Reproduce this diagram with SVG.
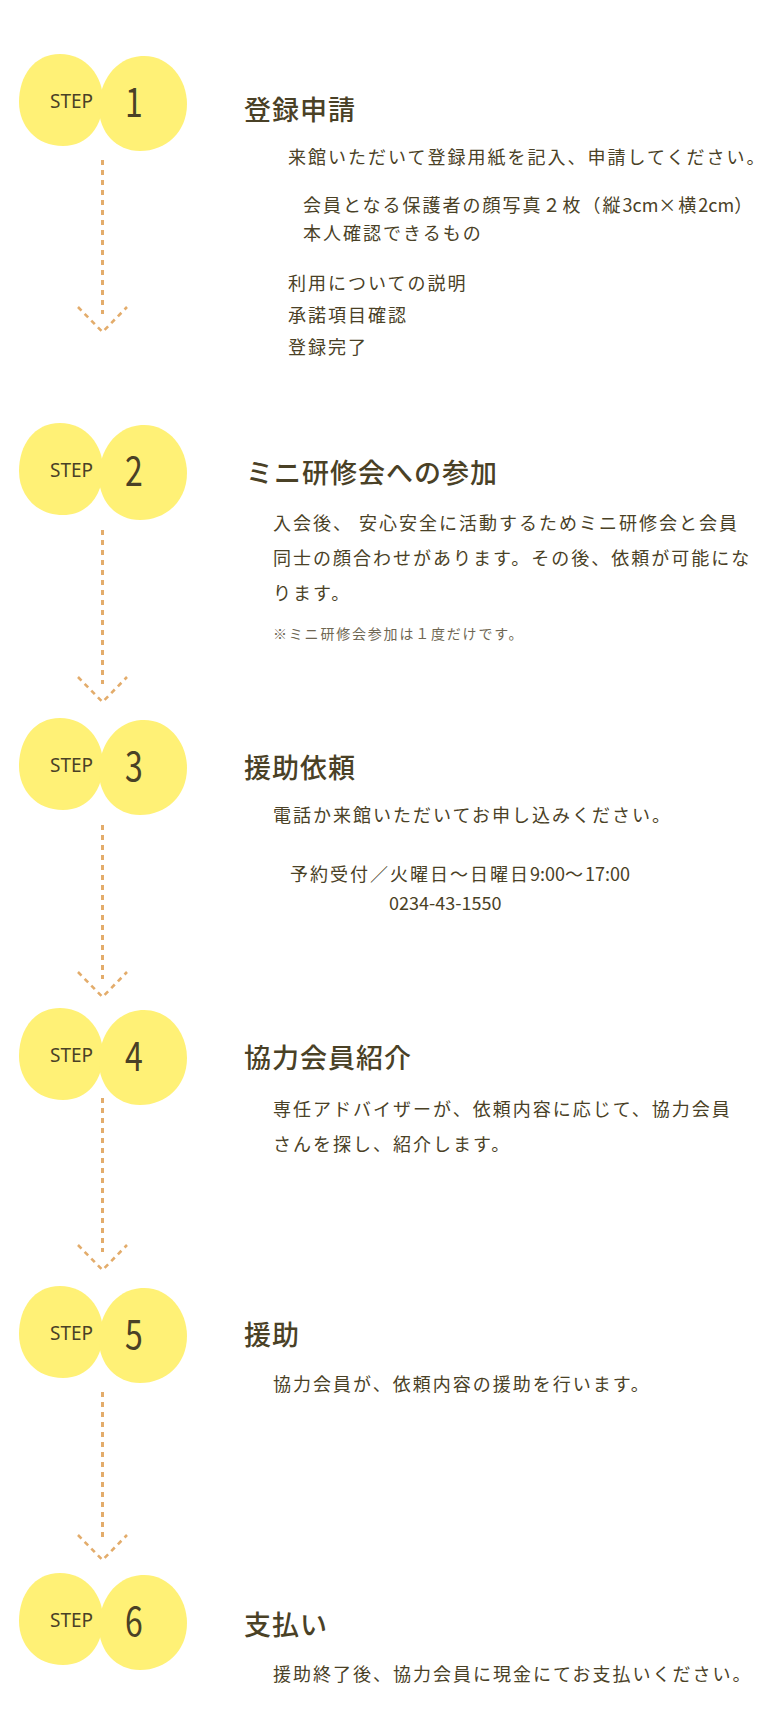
<svg xmlns="http://www.w3.org/2000/svg" xmlns:xlink="http://www.w3.org/1999/xlink" width="768" height="1730" viewBox="0 0 768 1730">
<style>
.bg{fill:#ffffff}
.lobe{fill:#FFF176}
.step{font-family:"Noto Sans","Noto Sans CJK JP",sans-serif;font-size:19px;fill:#4a4126;text-anchor:middle}
.num{font-family:"Noto Sans CJK JP","Noto Sans",sans-serif;font-size:40px;fill:#4a4126;text-anchor:middle}
.title{font-family:"Noto Sans CJK JP",sans-serif;font-size:27px;font-weight:500;fill:#4a4126;letter-spacing:1px}
.body{font-family:"Noto Sans CJK JP",sans-serif;font-size:18px;fill:#4a4126;letter-spacing:2px}
.note{font-family:"Noto Sans CJK JP",sans-serif;font-size:14px;fill:#6e6652;letter-spacing:1.8px}
.dig{letter-spacing:0px}
.dash{fill:none;stroke:#E3AC6B;stroke-width:3;stroke-dasharray:5 5}
.chev{fill:none;stroke:#E3AC6B;stroke-width:2.6;stroke-dasharray:5 4.5}
</style>
<defs>
<path id="lobeL" d="M60,0 C86,0 103,22 103,46 C103,72 88,92 63,92 C36,92 19,72 19,48 C19,22 34,0 60,0 Z"/>
<path id="lobeR" d="M141,2 C168,0 187,24 187,50 C187,78 166,97 140,97 C116,97 99,78 99,54 C99,28 115,4 141,2 Z"/>
<g id="blob">
<use xlink:href="#lobeL" class="lobe"/>
<use xlink:href="#lobeR" class="lobe"/>
</g>
</defs>
<rect class="bg" x="0" y="0" width="768" height="1730"/>

<g id="connectors">
<line class="dash" x1="102.5" y1="160" x2="102.5" y2="314"/>
<polyline class="chev" points="78,307 102.5,332 127,307"/>
<line class="dash" x1="102.5" y1="530" x2="102.5" y2="684"/>
<polyline class="chev" points="78,677 102.5,702 127,677"/>
<line class="dash" x1="102.5" y1="825" x2="102.5" y2="979"/>
<polyline class="chev" points="78,972 102.5,997 127,972"/>
<line class="dash" x1="102.5" y1="1098" x2="102.5" y2="1252"/>
<polyline class="chev" points="78,1245 102.5,1270 127,1245"/>
<line class="dash" x1="102.5" y1="1392" x2="102.5" y2="1542"/>
<polyline class="chev" points="78,1535 102.5,1560 127,1535"/>
</g>

<g id="step1">
<use xlink:href="#blob" transform="translate(0,54)"/>
<text class="step" x="71.5" y="108">STEP</text>
<text class="num" transform="translate(134,117) scale(0.8,1)">1</text>
<text class="title" x="244" y="120">登録申請</text>
<text class="body" x="288" y="163.5">来館いただいて登録用紙を記入、申請してください。</text>
<text class="body" x="303" y="212">会員となる保護者の顔写真２枚（縦<tspan class="dig">3cm</tspan>×横<tspan class="dig">2cm</tspan>）</text>
<text class="body" x="303" y="240">本人確認できるもの</text>
<text class="body" x="288" y="290">利用についての説明</text>
<text class="body" x="288" y="322">承諾項目確認</text>
<text class="body" x="288" y="354">登録完了</text>
</g>

<g id="step2">
<use xlink:href="#blob" transform="translate(0,423)"/>
<text class="step" x="71.5" y="477">STEP</text>
<text class="num" transform="translate(134,486) scale(0.8,1)">2</text>
<text class="title" x="246" y="483">ミニ研修会への参加</text>
<text class="body" x="273" y="530">入会後、 安心安全に活動するためミニ研修会と会員</text>
<text class="body" x="273" y="565">同士の顔合わせがあります。その後、依頼が可能にな</text>
<text class="body" x="273" y="600">ります。</text>
<text class="note" x="273" y="639">※ミニ研修会参加は１度だけです。</text>
</g>

<g id="step3">
<use xlink:href="#blob" transform="translate(0,718)"/>
<text class="step" x="71.5" y="772">STEP</text>
<text class="num" transform="translate(134,781) scale(0.8,1)">3</text>
<text class="title" x="244" y="778">援助依頼</text>
<text class="body" x="273" y="822">電話か来館いただいてお申し込みください。</text>
<text class="body" x="290" y="881">予約受付／火曜日～日曜日<tspan class="dig">9:00</tspan>～<tspan class="dig">17:00</tspan></text>
<text class="body dig" x="389" y="910">0234-43-1550</text>
</g>

<g id="step4">
<use xlink:href="#blob" transform="translate(0,1008)"/>
<text class="step" x="71.5" y="1062">STEP</text>
<text class="num" transform="translate(134,1071) scale(0.8,1)">4</text>
<text class="title" x="244" y="1068">協力会員紹介</text>
<text class="body" x="273" y="1116">専任アドバイザーが、依頼内容に応じて、協力会員</text>
<text class="body" x="273" y="1151">さんを探し、紹介します。</text>
</g>

<g id="step5">
<use xlink:href="#blob" transform="translate(0,1286)"/>
<text class="step" x="71.5" y="1340">STEP</text>
<text class="num" transform="translate(134,1349) scale(0.8,1)">5</text>
<text class="title" x="244" y="1345">援助</text>
<text class="body" x="273" y="1391">協力会員が、依頼内容の援助を行います。</text>
</g>

<g id="step6">
<use xlink:href="#blob" transform="translate(0,1573)"/>
<text class="step" x="71.5" y="1627">STEP</text>
<text class="num" transform="translate(134,1636) scale(0.8,1)">6</text>
<text class="title" x="244" y="1635">支払い</text>
<text class="body" x="273" y="1681">援助終了後、協力会員に現金にてお支払いください。</text>
</g>
</svg>
